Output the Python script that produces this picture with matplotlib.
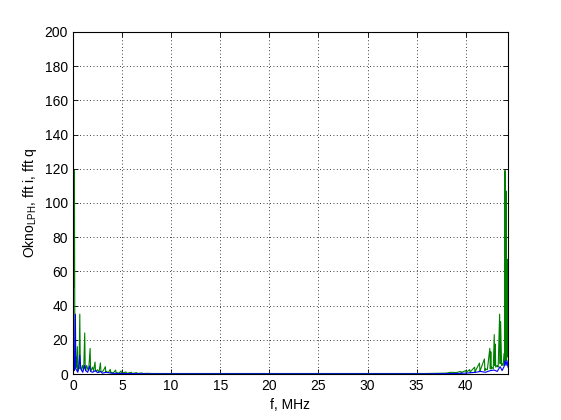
import matplotlib
matplotlib.use("Agg")
import matplotlib.pyplot as plt

plt.rcParams['font.family'] = ['Liberation Sans', 'DejaVu Sans']
plt.rcParams['mathtext.fontset'] = 'custom'
plt.rcParams['mathtext.rm'] = 'Liberation Sans'
plt.rcParams['mathtext.it'] = 'Liberation Sans'

# fft q (green), left and right clusters, MHz / amplitude
green_left_f = [0.00, 0.05, 0.10, 0.15, 0.20, 0.25, 0.30, 0.35, 0.45, 0.50, 0.55, 0.62, 0.70, 0.75, 0.80,
                0.90, 0.98, 1.10, 1.20, 1.25, 1.30, 1.40, 1.50, 1.60, 1.75, 1.80, 1.85, 2.00, 2.10, 2.25,
                2.30, 2.35, 2.50, 2.65, 2.80, 2.85, 2.90, 3.10, 3.30, 3.35, 3.40, 3.60, 3.80, 3.85, 3.90,
                4.10, 4.35, 4.40, 4.45, 4.70, 4.90, 4.95, 5.00, 5.40, 5.45, 5.50, 5.95, 6.00, 6.50, 6.55,
                7.05, 7.10, 7.60, 8.00]
green_left_v = [51, 50, 51, 119, 8, 3, 10, 4, 16, 2, 5, 3, 35, 6, 4,
                2, 5, 3, 24, 4, 2, 5, 3, 2, 15, 3, 2, 4, 2, 7,
                2, 1.5, 2.5, 1, 6.5, 1.5, 1, 2, 4.3, 1, 1.5, 0.8, 2.7, 0.8, 1,
                0.6, 2.3, 0.7, 0.8, 0.5, 1.8, 0.5, 0.5, 1.2, 0.4, 0.4, 1.0, 0.3, 0.8, 0.3,
                0.6, 0.3, 0.4, 0.3]

green_right_f = [36.0, 37.0, 38.0, 38.5, 39.0, 39.5, 39.55, 39.6, 40.0, 40.05, 40.1, 40.4, 40.45, 40.5,
                 40.9, 40.95, 41.0, 41.4, 41.45, 41.5, 41.9, 41.95, 42.0, 42.2, 42.45, 42.5, 42.55,
                 42.6, 42.65, 42.8, 42.9, 42.95, 43.0, 43.05, 43.2, 43.3, 43.45, 43.5, 43.55, 43.65,
                 43.7, 43.8, 43.9, 43.95, 44.0, 44.05, 44.1, 44.15, 44.2, 44.25, 44.3]
green_right_v = [0.3, 0.4, 0.5, 1.0, 0.8, 1.5, 0.5, 1.0, 2.0, 0.8, 1.2, 2.6, 0.8, 1.5,
                 4.0, 1.0, 2.0, 6.4, 1.5, 2.5, 8.8, 2.0, 3.0, 2.5, 15, 3.0, 13,
                 3.0, 4.0, 3.0, 23, 5.0, 17.5, 4.0, 5.0, 4.0, 35, 6.0, 30.6, 5.0,
                 6.0, 5.0, 12, 5.0, 119, 6.0, 107, 8.0, 67, 10, 67]

# fft i (blue)
blue_left_f = [0.00, 0.05, 0.10, 0.15, 0.25, 0.30, 0.40, 0.50, 0.60, 0.70, 0.80, 0.90, 1.00, 1.20,
               1.30, 1.50, 1.70, 1.80, 2.00, 2.30, 2.50, 2.80, 3.00, 3.40, 4.00, 5.00, 8.00]
blue_left_v = [7, 3, 7.6, 2, 35, 3, 2, 1, 4, 11, 3, 2, 1, 5,
               2, 1, 4.7, 1.5, 1, 2, 0.8, 1.5, 0.5, 1, 0.4, 0.3, 0.1]

blue_right_f = [36.0, 39.0, 40.0, 41.0, 41.5, 42.0, 42.5, 42.9, 43.2, 43.5, 43.7, 43.9, 44.0,
                44.1, 44.2, 44.3]
blue_right_v = [0.1, 0.3, 0.5, 1.0, 1.5, 1.0, 2.0, 2.3, 1.5, 4.3, 2.0, 4.3, 7.8, 5.0, 7.8, 4.0]

fig = plt.figure(figsize=(5.61, 4.2), dpi=100)
ax = fig.add_axes([0.13, 0.1095, 0.7755, 0.8145])

ax.plot(green_left_f + green_right_f, green_left_v + green_right_v, color=(0, 0.5, 0), lw=0.8)
ax.plot(blue_left_f + blue_right_f, blue_left_v + blue_right_v, color=(0, 0, 1), lw=0.8)

ax.set_xlim(0, 44.3)
ax.set_ylim(0, 200)
ax.set_xticks(range(0, 45, 5))
ax.set_yticks(range(0, 201, 20))
ax.grid(True, color='black', linestyle=(0, (1, 3)), linewidth=0.6)
ax.tick_params(direction='in', length=3.5, width=0.6, top=True, right=True, labelsize=10)
for s in ax.spines.values():
    s.set_linewidth(0.8)

ax.set_xlabel('f, MHz', fontsize=10)
ax.set_ylabel(r'Okno$_{\mathrm{LPH}}$, fft i, fft q', fontsize=10)

fig.savefig('out.png', dpi=100)
